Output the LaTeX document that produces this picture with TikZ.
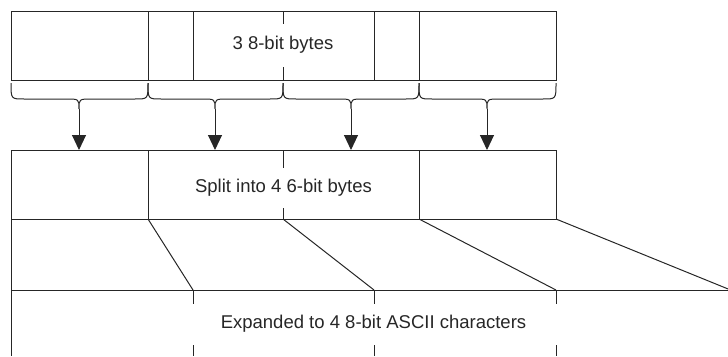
\documentclass[tikz,border=0pt]{standalone}
\usepackage{fontspec}
\setmainfont{Liberation Sans}
\usetikzlibrary{arrows.meta}

\begin{document}
\begin{tikzpicture}[x=1pt,y=-1pt,line width=1pt,color=black!85,
    font=\fontsize{18.5}{22}\selectfont]
    % Page size (pixel grid of the reference)
    \useasboundingbox (0,0) rectangle (728,356);

    % Brace tips and the points where the arrows hit the second row
    \coordinate (tipA) at (79,109);
    \coordinate (tipB) at (215,109);
    \coordinate (tipC) at (351,109);
    \coordinate (tipD) at (487,109);
    \coordinate (inA) at (79,150);
    \coordinate (inB) at (215,150);
    \coordinate (inC) at (351,150);
    \coordinate (inD) at (487,150);

    % Draw the 3 8-bit bytes
    \draw (11,11) rectangle (556,80);
    \draw (148,11) -- (148,80);
    \draw (193,11) -- (193,80);
    \draw (374,11) -- (374,80);
    \draw (419,11) -- (419,80);
    \draw (283,11) -- (283,24);
    \draw (283,67) -- (283,80);
    \node (lblBytes) at (283,45) {3 8-bit bytes};

    % Draw the braces over each group of 6 bits
    \draw (11,83) .. controls (11,99) .. (24,99) -- (66,99) .. controls (79,99) .. (tipA)
        .. controls (79,99) .. (92,99) -- (135,99) .. controls (148,99) .. (148,83);
    \draw (148,83) .. controls (148,99) .. (161,99) -- (202,99) .. controls (215,99) .. (tipB)
        .. controls (215,99) .. (228,99) -- (270,99) .. controls (283,99) .. (283,83);
    \draw (283,83) .. controls (283,99) .. (296,99) -- (338,99) .. controls (351,99) .. (tipC)
        .. controls (351,99) .. (364,99) -- (406,99) .. controls (419,99) .. (419,83);
    \draw (419,83) .. controls (419,99) .. (432,99) -- (474,99) .. controls (487,99) .. (tipD)
        .. controls (487,99) .. (500,99) -- (543,99) .. controls (556,99) .. (556,83);

    % Draw the arrows down to the 6-bit bytes
    \draw[-{Triangle[length=15pt,width=14pt]}] (tipA) -- (inA);
    \draw[-{Triangle[length=15pt,width=14pt]}] (tipB) -- (inB);
    \draw[-{Triangle[length=15pt,width=14pt]}] (tipC) -- (inC);
    \draw[-{Triangle[length=15pt,width=14pt]}] (tipD) -- (inD);

    % Draw the 4 6-bit bytes
    \draw (11,150) rectangle (556,219);
    \draw (148,150) -- (148,219);
    \draw (419,150) -- (419,219);
    \draw (283,150) -- (283,168);
    \draw (283,208) -- (283,219);
    \node (lblSplit) at (283.5,188) {Split into 4 6-bit bytes};

    % Draw the expansion to 8 bits
    \draw (11,219) -- (11,356);
    \draw (148,219) -- (193,290);
    \draw (283,219) -- (374,290);
    \draw (419,219) -- (556,290);
    \draw (556,219) -- (738,293);
    \draw (11,290) -- (728,290);

    % Draw the 4 8-bit ASCII characters
    \draw (193,290) -- (193,304);
    \draw (193,345) -- (193,356);
    \draw (374,290) -- (374,304);
    \draw (374,345) -- (374,356);
    \draw (556,290) -- (556,304);
    \draw (556,345) -- (556,356);
    \node (lblAscii) at (373.5,324) {Expanded to 4 8-bit ASCII characters};
\end{tikzpicture}
\end{document}
